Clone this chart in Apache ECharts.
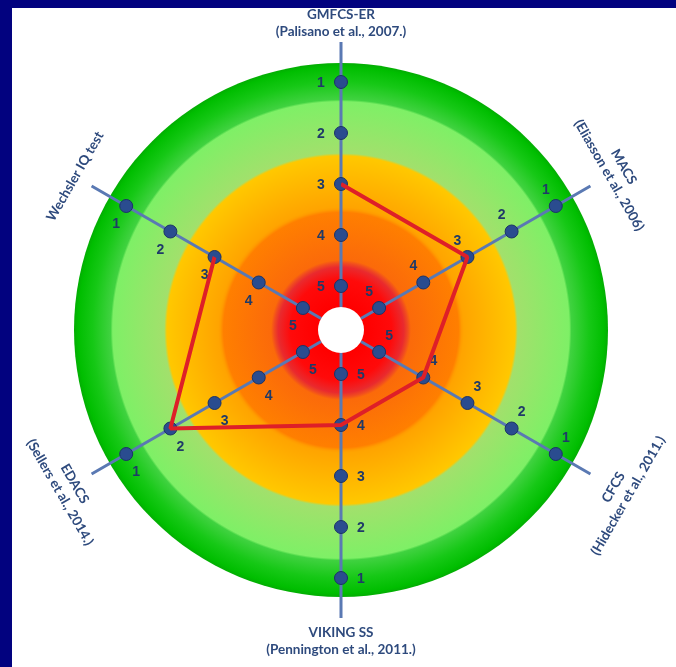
<!DOCTYPE html>
<html>
<head>
<meta charset="utf-8">
<script src="https://cdn.jsdelivr.net/npm/echarts@6/dist/echarts.min.js"></script>
<style>
html,body{margin:0;padding:0;background:#fff;}
#chart{width:676px;height:667px;}
</style>
</head>
<body>
<div id="chart"></div>
<script>
// ---- data ----
const categories = ['GMFCS-ER', 'MACS', 'CFCS', 'VIKING SS', 'EDACS', 'Wechsler IQ test'];
const references = ['(Palisano et al., 2007.)', '(Eliasson et al., 2006)', '(Hidecker et al., 2011.)', '(Pennington et al., 2011.)', '(Sellers et al., 2014.)', ''];
const levels = [1, 2, 3, 4, 5];
const profile = [3, 3, 4, 4, 2, 3];

// ---- layout / style ----
const CX = 341, CY = 330;
const BG_R = 267, HOLE_R = 23, AXIS_R = 288;
const nameRadius = [307, 318, 323, 311, 316, 307];
const nameRotation = [0, -Math.PI / 3, Math.PI / 3, 0, -Math.PI / 3, Math.PI / 3];
const textColor = '#2e4a7d';
const numColor = '#1f3a68';

function dirOf(i) {
  const a = (90 - 60 * i) * Math.PI / 180;
  return [Math.cos(a), -Math.sin(a)];
}

const dotData = [];
categories.forEach((c, i) => {
  const d = dirOf(i);
  const side = [d[1], -d[0]];
  levels.forEach(L => {
    dotData.push({
      value: [L, c],
      label: { offset: [side[0] * 20, side[1] * 20 + 1] }
    });
  });
});

const lineData = profile.map((v, i) => [v, categories[i]]);
lineData.push([profile[0], categories[0]]);

const graphics = [
  { type: 'rect', shape: { x: 0, y: 0, width: 12, height: 667 }, style: { fill: '#02027f' }, z: 100 },
  { type: 'rect', shape: { x: 0, y: 0, width: 676, height: 8 }, style: { fill: '#02027f' }, z: 100 }
];
categories.forEach((c, i) => {
  const d = dirOf(i);
  const txt = references[i] ? c + '\n' + references[i] : c;
  graphics.push({
    type: 'text',
    x: CX + d[0] * nameRadius[i],
    y: CY + d[1] * nameRadius[i],
    rotation: nameRotation[i],
    z: 50,
    style: {
      text: txt,
      fill: textColor,
      font: 'bold 13.5px Lato',
      lineHeight: 17,
      align: 'center',
      verticalAlign: 'middle',
      textAlign: 'center',
      textVerticalAlign: 'middle'
    }
  });
});

const bgGradient = {
  type: 'radial', x: CX, y: CY, r: BG_R, global: true,
  colorStops: [
    { offset: 0, color: '#ff0000' },
    { offset: 0.09, color: '#ff0000' },
    { offset: 0.19, color: '#ff0a0a' },
    { offset: 0.235, color: '#e92a2e' },
    { offset: 0.25, color: '#f04a20' },
    { offset: 0.262, color: '#fb6a0a' },
    { offset: 0.44, color: '#ff7f00' },
    { offset: 0.452, color: '#ff9c00' },
    { offset: 0.46, color: '#ffa400' },
    { offset: 0.652, color: '#ffc800' },
    { offset: 0.662, color: '#a2e06c' },
    { offset: 0.855, color: '#7ef066' },
    { offset: 0.863, color: '#40d240' },
    { offset: 0.93, color: '#16c816' },
    { offset: 0.985, color: '#00be00' },
    { offset: 1, color: '#03ad03' }
  ]
};

const chart = echarts.init(document.getElementById('chart'), null, { renderer: 'canvas' });
chart.setOption({
  animation: false,
  backgroundColor: '#ffffff',
  polar: { center: [CX, CY], radius: [HOLE_R, AXIS_R] },
  angleAxis: {
    type: 'category',
    data: categories,
    startAngle: 90,
    clockwise: true,
    boundaryGap: false,
    z: 3,
    axisLine: { show: false },
    axisTick: { show: false },
    axisLabel: { show: false },
    splitLine: { show: true, interval: 0, lineStyle: { color: '#5a79b3', width: 3 } }
  },
  radiusAxis: {
    type: 'value',
    inverse: true,
    min: 0.2157,
    max: 5.4118,
    axisLine: { show: false },
    axisTick: { show: false },
    axisLabel: { show: false },
    splitLine: { show: false }
  },
  graphic: graphics,
  series: [
    {
      type: 'pie', silent: true, z: 1,
      center: [CX, CY], radius: [0, BG_R],
      label: { show: false }, labelLine: { show: false },
      itemStyle: { color: bgGradient, borderWidth: 0 },
      emphasis: { disabled: true },
      data: [{ value: 1, name: 'bg' }]
    },
    {
      type: 'pie', silent: true, z: 4,
      center: [CX, CY], radius: [0, HOLE_R],
      label: { show: false }, labelLine: { show: false },
      itemStyle: { color: '#ffffff', borderWidth: 0 },
      emphasis: { disabled: true },
      data: [{ value: 1, name: 'hole' }]
    },
    {
      type: 'scatter', coordinateSystem: 'polar', z: 6,
      symbolSize: 13,
      itemStyle: { color: '#2a4c8f', borderColor: '#1b3367', borderWidth: 1, opacity: 1 },
      label: {
        show: true, position: 'inside',
        formatter: p => String(p.value[0]),
        color: numColor, fontWeight: 'bold', fontSize: 14, fontFamily: 'Liberation Sans'
      },
      emphasis: { disabled: true },
      data: dotData
    },
    {
      type: 'line', coordinateSystem: 'polar', z: 8,
      symbol: 'none',
      lineStyle: { color: '#de1f28', width: 4 },
      emphasis: { disabled: true },
      data: lineData
    }
  ]
});
</script>
</body>
</html>
